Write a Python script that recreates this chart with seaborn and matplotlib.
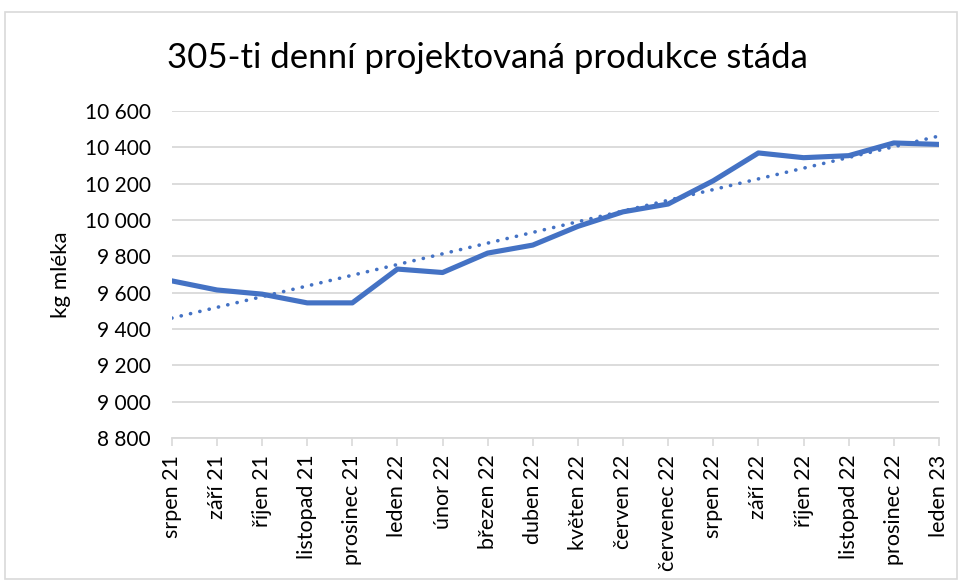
import numpy as np
import pandas as pd
import matplotlib.pyplot as plt
import matplotlib.ticker as mticker
from matplotlib.patches import Rectangle
import seaborn as sns

# Data
months = ['srpen 21', 'září 21', 'říjen 21', 'listopad 21', 'prosinec 21',
          'leden 22', 'únor 22', 'březen 22', 'duben 22', 'květen 22',
          'červen 22', 'červenec 22', 'srpen 22', 'září 22', 'říjen 22',
          'listopad 22', 'prosinec 22', 'leden 23']
production = [9665, 9615, 9592, 9544, 9544, 9730, 9711, 9818, 9862, 9965,
              10045, 10088, 10216, 10369, 10343, 10354, 10424, 10416]
y_ticks = [8800, 9000, 9200, 9400, 9600, 9800, 10000, 10200, 10400, 10600]

df = pd.DataFrame({'idx': range(len(months)), 'month': months, 'value': production})

# Linear trend (Excel-style trendline)
coef = np.polyfit(df['idx'], df['value'], 1)
df['trend'] = np.polyval(coef, df['idx'])

sns.set_style('white')
plt.rcParams['font.family'] = ['Lato', 'DejaVu Sans']
plt.rcParams['text.color'] = 'black'
plt.rcParams['xtick.color'] = 'black'
plt.rcParams['ytick.color'] = 'black'
plt.rcParams['axes.labelcolor'] = 'black'

fig = plt.figure(figsize=(9.6, 5.81), dpi=100)
ax = fig.add_axes([0.179, 0.246, 0.799, 0.563])

blue = '#4472C4'
sns.lineplot(data=df, x='idx', y='trend', ax=ax, color=blue, linewidth=2.6,
             linestyle=(0, (0.05, 2.6)), dash_capstyle='round')
sns.lineplot(data=df, x='idx', y='value', ax=ax, color=blue, linewidth=3.7,
             solid_joinstyle='round', solid_capstyle='round')

ax.set_xlim(0, len(months) - 1)
ax.set_ylim(8800, 10600)
ax.set_yticks(y_ticks)
ax.yaxis.set_major_formatter(mticker.FuncFormatter(lambda v, p: f'{int(v):,}'.replace(',', ' ')))
ax.set_xticks(range(len(months)))
ax.set_xticklabels(months, rotation=90, fontsize=15.5)
ax.tick_params(axis='y', labelsize=15, length=0, pad=15)
ax.tick_params(axis='x', length=6, color='#d9d9d9', width=1.2, pad=6, direction='out', bottom=True)

ax.grid(axis='y', color='#d9d9d9', linewidth=1.3)
ax.set_axisbelow(True)
for s in ['left', 'right', 'top']:
    ax.spines[s].set_visible(False)
ax.spines['bottom'].set_color('#d9d9d9')
ax.spines['bottom'].set_linewidth(1.3)

ax.set_xlabel('')
ax.set_ylabel('kg mléka', fontsize=16, labelpad=10)

fig.text(0.508, 0.9, '305-ti denní projektovaná produkce stáda', ha='center', va='center',
         fontsize=25)

# chart border
fig.patches.append(Rectangle((5 / 960, 2 / 581), 952 / 960, 567 / 581, transform=fig.transFigure,
                             fill=False, edgecolor='#d9d9d9', linewidth=1.2))

fig.savefig('out.png', dpi=100)
